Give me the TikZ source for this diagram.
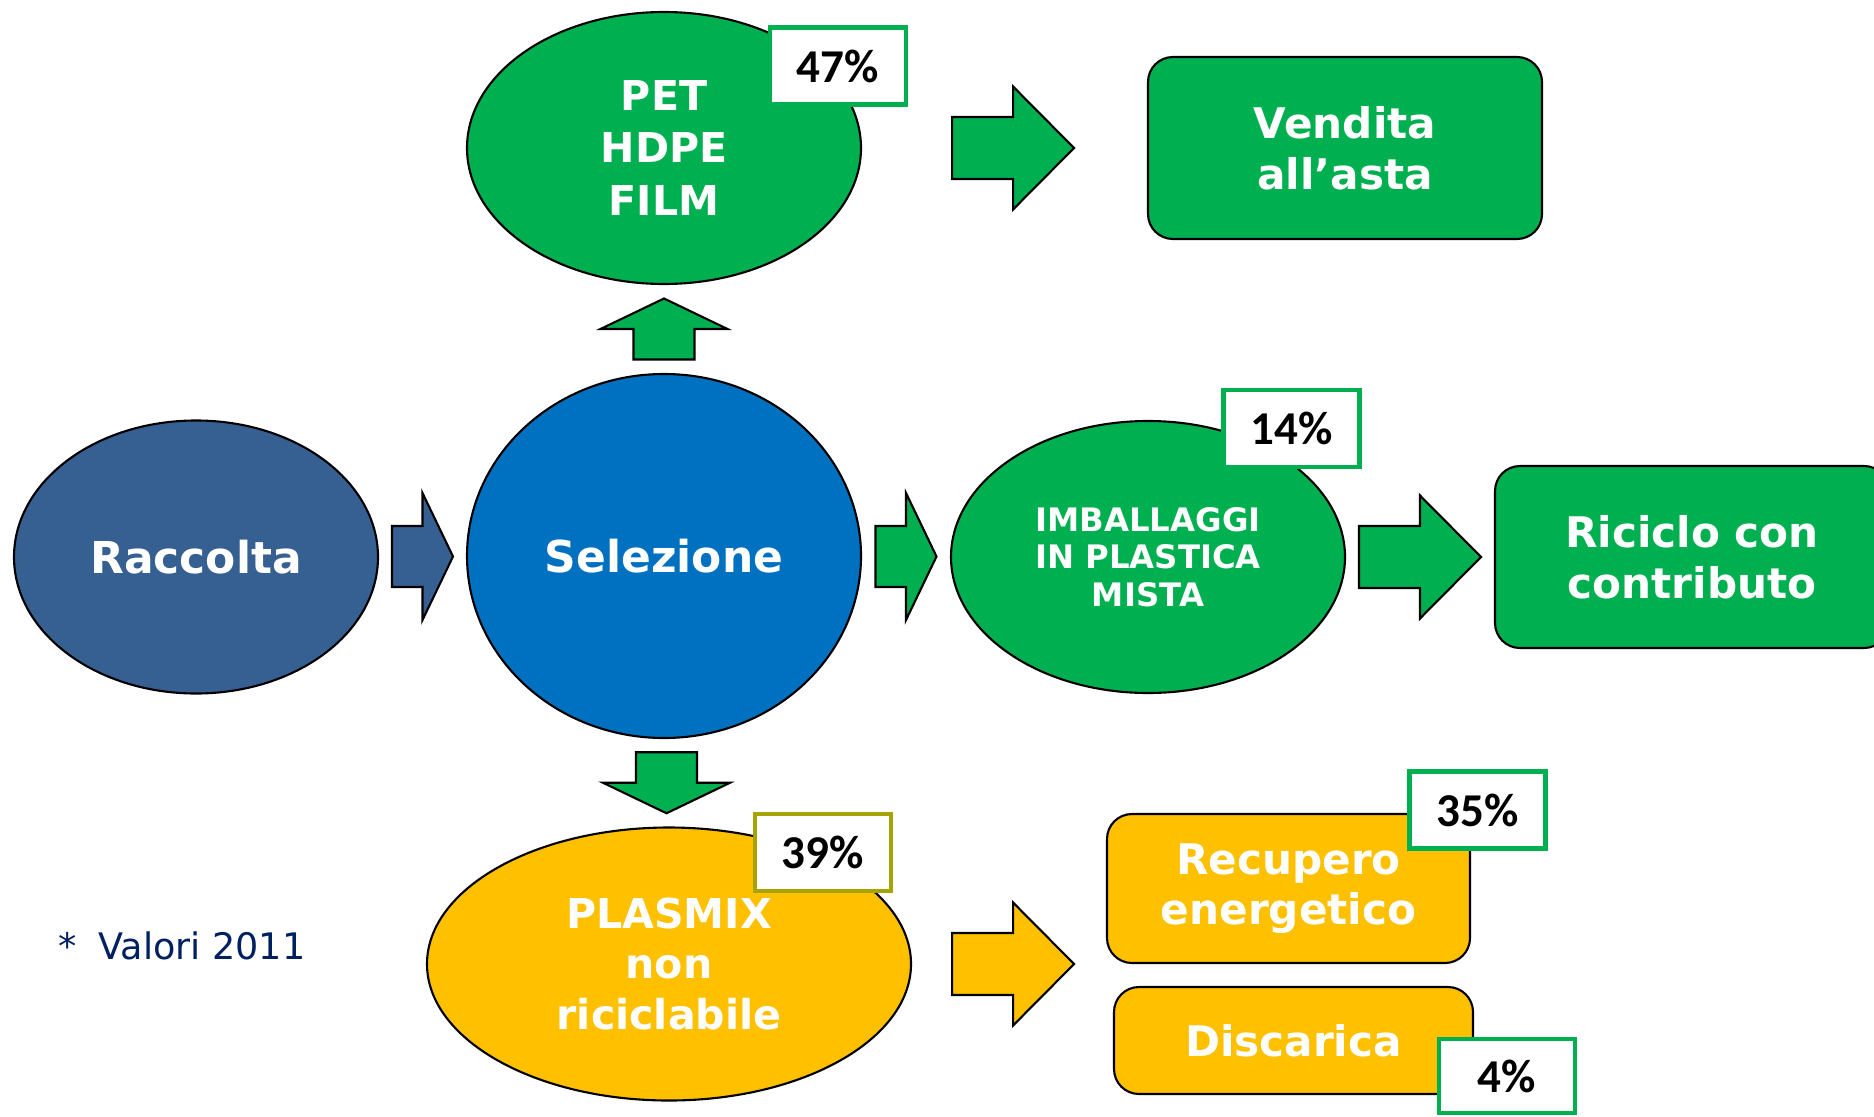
\documentclass[tikz,border=0pt]{standalone}
\usepackage{fontspec}
\setmainfont{DejaVu Sans}
\newfontfamily\pctfont{Carlito}
\usepackage{tikz}
\usetikzlibrary{shapes.geometric, calc}
\definecolor{racblue}{RGB}{55,96,146}
\definecolor{selblue}{RGB}{0,112,192}
\definecolor{fillgreen}{RGB}{0,176,80}
\definecolor{fillyellow}{RGB}{255,192,0}
\definecolor{olive}{RGB}{166,164,0}
\definecolor{navy}{RGB}{0,32,96}

\begin{document}
\begin{tikzpicture}[
	blob/.style={ellipse, draw=black, line width=0.6pt, inner sep=0pt, text=white, align=center},
	tile/.style={rectangle, rounded corners=0.25cm, draw=black, line width=0.6pt, inner sep=0pt, text=white, align=center, font=\bfseries\fontsize{12}{14.4}\selectfont},
	pct/.style={rectangle, draw=fillgreen, line width=1.4pt, fill=white, minimum width=1.36cm, minimum height=0.77cm, inner sep=0pt, font=\pctfont\bfseries\fontsize{13.4}{16}\selectfont},
	shortarr/.pic={\draw[pic actions,line width=0.6pt] (-0.305,-0.305)--(0,-0.305)--(0,-0.635)--(0.305,0)--(0,0.635)--(0,0.305)--(-0.305,0.305)--cycle;},
	longarr/.pic={\draw[pic actions,line width=0.6pt] (-0.61,-0.31)--(0,-0.31)--(0,-0.615)--(0.61,0)--(0,0.615)--(0,0.31)--(-0.61,0.31)--cycle;}]
	\useasboundingbox (0,0) rectangle (18.74,11.16);
	% ellissi
	\node[blob, fill=racblue, minimum width=3.64cm, minimum height=2.73cm, font=\bfseries\fontsize{12.5}{15}\selectfont] (raccolta) at (1.96,5.59) {Raccolta};
	\node[blob, fill=selblue, minimum width=3.94cm, minimum height=3.64cm, font=\bfseries\fontsize{12.5}{15}\selectfont] (selezione) at (6.64,5.60) {Selezione};
	\node[blob, fill=fillgreen, minimum width=3.94cm, minimum height=2.72cm, font=\bfseries\fontsize{11.7}{14.8}\selectfont] (pet) at (6.64,9.68) {PET\\HDPE\\FILM};
	\node[blob, fill=fillgreen, minimum width=3.94cm, minimum height=2.72cm, font=\bfseries\fontsize{9.2}{10.7}\selectfont] (imballaggi) at (11.48,5.59) {IMBALLAGGI\\IN PLASTICA\\MISTA};
	\node[blob, fill=fillyellow, minimum width=4.84cm, minimum height=2.73cm, font=\bfseries\fontsize{11.7}{14.5}\selectfont] (plasmix) at (6.69,1.52) {PLASMIX\\non\\riciclabile};
	% riquadri
	\node[tile, fill=fillgreen, minimum width=3.94cm, minimum height=1.82cm] (vendita) at (13.45,9.68) {Vendita\\all’asta};
	\node[tile, fill=fillgreen, minimum width=3.94cm, minimum height=1.82cm] (riciclo) at (16.92,5.59) {Riciclo con\\contributo};
	\node[tile, fill=fillyellow, minimum width=3.63cm, minimum height=1.49cm] (recupero) at (12.885,2.275) {Recupero\\energetico};
	\node[tile, fill=fillyellow, minimum width=3.59cm, minimum height=1.07cm] (discarica) at (12.935,0.755) {Discarica};
	% frecce
	\pic[fill=racblue] at ($(raccolta.east)!0.5!(selezione.west)$) {shortarr};
	\pic[fill=fillgreen] at ($(selezione.east)!0.5!(imballaggi.west)$) {shortarr};
	\pic[fill=fillgreen, rotate=90] at ($(selezione.north)!0.5!(pet.south)$) {shortarr};
	\pic[fill=fillgreen, rotate=-90] at ($(selezione.south)!0.5!(plasmix.north)$) {shortarr};
	\pic[fill=fillgreen] at ($(pet.east)!0.53!(vendita.west)$) {longarr};
	\pic[fill=fillgreen] at ($(imballaggi.east)!0.5!(riciclo.west)$) {longarr};
	\pic[fill=fillyellow] at ($(plasmix.east)+(1.01,0)$) {longarr};
	% percentuali
	\node[pct] (p47) at (8.38,10.50) {47\%};
	\node[pct] (p14) at (12.915,6.875) {14\%};
	\node[pct, draw=olive] (p39) at (8.23,2.635) {39\%};
	\node[pct] (p35) at (14.775,3.06) {35\%};
	\node[pct, minimum height=0.74cm] (p4) at (15.07,0.40) {4\%};
	\node[anchor=base west, inner sep=0pt, text=navy, font=\fontsize{10.4}{12}\selectfont] (nota) at (0.58,1.57) {*\hspace{0.1cm} Valori 2011};
\end{tikzpicture}
\end{document}
